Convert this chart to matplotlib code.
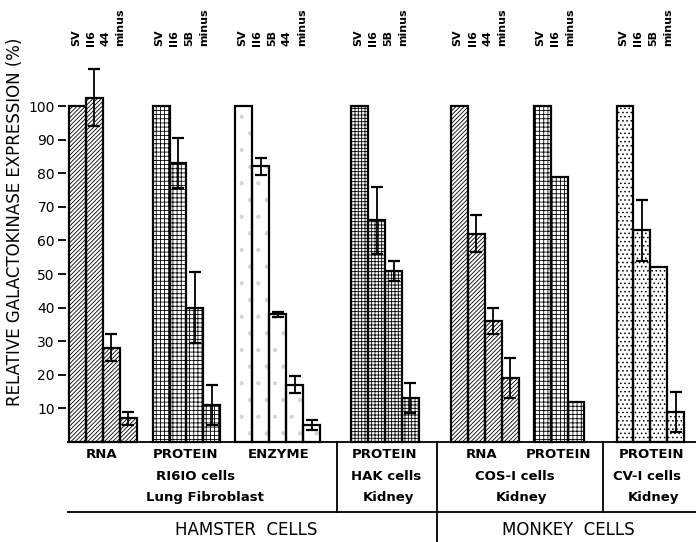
import numpy as np
import matplotlib.pyplot as plt

plt.rcParams['font.family'] = ['DejaVu Sans']
plt.rcParams['hatch.linewidth'] = 0.6

# data: one list per bar group
group_labels = [
    ['SV', 'II6', '44', 'minus'],
    ['SV', 'II6', '5B', 'minus'],
    ['SV', 'II6', '5B', '44', 'minus'],
    ['SV', 'II6', '5B', 'minus'],
    ['SV', 'II6', '44', 'minus'],
    ['SV', 'II6', 'minus'],
    ['SV', 'II6', '5B', 'minus'],
]
group_values = [
    [100, 102.5, 28, 7],
    [100, 83, 40, 11],
    [100, 82, 38, 17, 5],
    [100, 66, 51, 13],
    [100, 62, 36, 19],
    [100, 79, 12],
    [100, 63, 52, 9],
]
group_errors = [
    [0, 8.5, 4, 2],
    [0, 7.5, 10.5, 6],
    [0, 2.5, 0.7, 2.5, 1.5],
    [0, 10, 3, 4.5],
    [0, 5.5, 3.9, 6],
    [0, 0, 0],
    [0, 9, 0, 6],
]
assay_labels = ['RNA', 'PROTEIN', 'ENZYME', 'PROTEIN', 'RNA', 'PROTEIN', 'PROTEIN']

# layout
group_start = [0, 4.95, 9.85, 16.7, 22.6, 27.5, 32.4]
hatches = ['////////', '++++', '.', '+++++', '////////', '++++', '....']
fill_edge = ['black', 'black', '#d4d4d4', 'black', 'black', 'black', 'black']

W, H = 696, 542
fig = plt.figure(figsize=(W / 100, H / 100), dpi=100)
ax = fig.add_axes([66 / W, 100 / H, 630 / W, 336 / H])
ax.set_xlim(-0.18, 37.1)
ax.set_ylim(0, 100)

px_per_unit = 336 / 100.0
def yp(pix):
    # image pixel row -> data y
    return (442 - pix) / px_per_unit

for g, vals in enumerate(group_values):
    x = group_start[g] + np.arange(len(vals))
    ax.bar(x, vals, width=1, align='edge', color='white', edgecolor=fill_edge[g],
           hatch=hatches[g], linewidth=0, clip_on=False, zorder=2)
    ax.bar(x, vals, width=1, align='edge', fill=False, edgecolor='black',
           linewidth=1.6, clip_on=False, zorder=3)
    err = np.array(group_errors[g])
    m = err > 0
    if m.any():
        ax.errorbar(x[m] + 0.5, np.array(vals)[m], yerr=err[m], fmt='none',
                    ecolor='black', elinewidth=1.3, capsize=4, capthick=1.6,
                    clip_on=False, zorder=4)
    for i, lab in enumerate(group_labels[g]):
        ax.text(x[i] + 0.4 - 0.12 * i, yp(46), lab, rotation=90, ha='center',
                va='bottom', fontsize=8, fontweight='bold', clip_on=False)

for s in ['top', 'right', 'bottom', 'left']:
    ax.spines[s].set_visible(False)
ax.set_xticks([])
ax.set_yticks(np.arange(10, 101, 10))
ax.set_yticklabels([str(v) for v in range(10, 101, 10)], fontsize=10)
ax.tick_params(axis='y', length=6, width=1.3, pad=2)
fig.text(15 / W, 1 - 222 / H, 'RELATIVE GALACTOKINASE EXPRESSION (%)', rotation=90,
         ha='center', va='center', fontsize=12)

def px(xpix):
    return (xpix - 69) / 16.9

# frame lines below the bars
kw = dict(color='black', linewidth=1.3, clip_on=False)
ax.plot([px(68), px(696)], [0, 0], **kw)
ax.plot([px(68), px(696)], [yp(512), yp(512)], **kw)
ax.plot([px(337), px(337)], [0, yp(512)], **kw)
ax.plot([px(603), px(603)], [0, yp(512)], **kw)
ax.plot([px(437), px(437)], [0, yp(542)], **kw)

# bottom labels
bold = dict(ha='center', va='center', fontsize=9.5, fontweight='bold', clip_on=False)
assay_x = [102, 185, 279, 384, 482, 558, 651]
for lab, xc in zip(assay_labels, assay_x):
    ax.text(px(xc), yp(454), lab, **bold)
for lab, xc, yc in [('RI6IO cells', 196, 476), ('Lung Fibroblast', 205, 497),
                    ('HAK cells', 386, 476), ('Kidney', 388, 497),
                    ('COS-I cells', 515, 476), ('Kidney', 521, 497),
                    ('CV-I cells', 647, 476), ('Kidney', 653, 497)]:
    ax.text(px(xc), yp(yc), lab, **bold)
ax.text(px(246), yp(530), 'HAMSTER  CELLS', ha='center', va='center', fontsize=12,
        clip_on=False)
ax.text(px(568), yp(530), 'MONKEY  CELLS', ha='center', va='center', fontsize=12,
        clip_on=False)

fig.savefig('out.png', dpi=100)
